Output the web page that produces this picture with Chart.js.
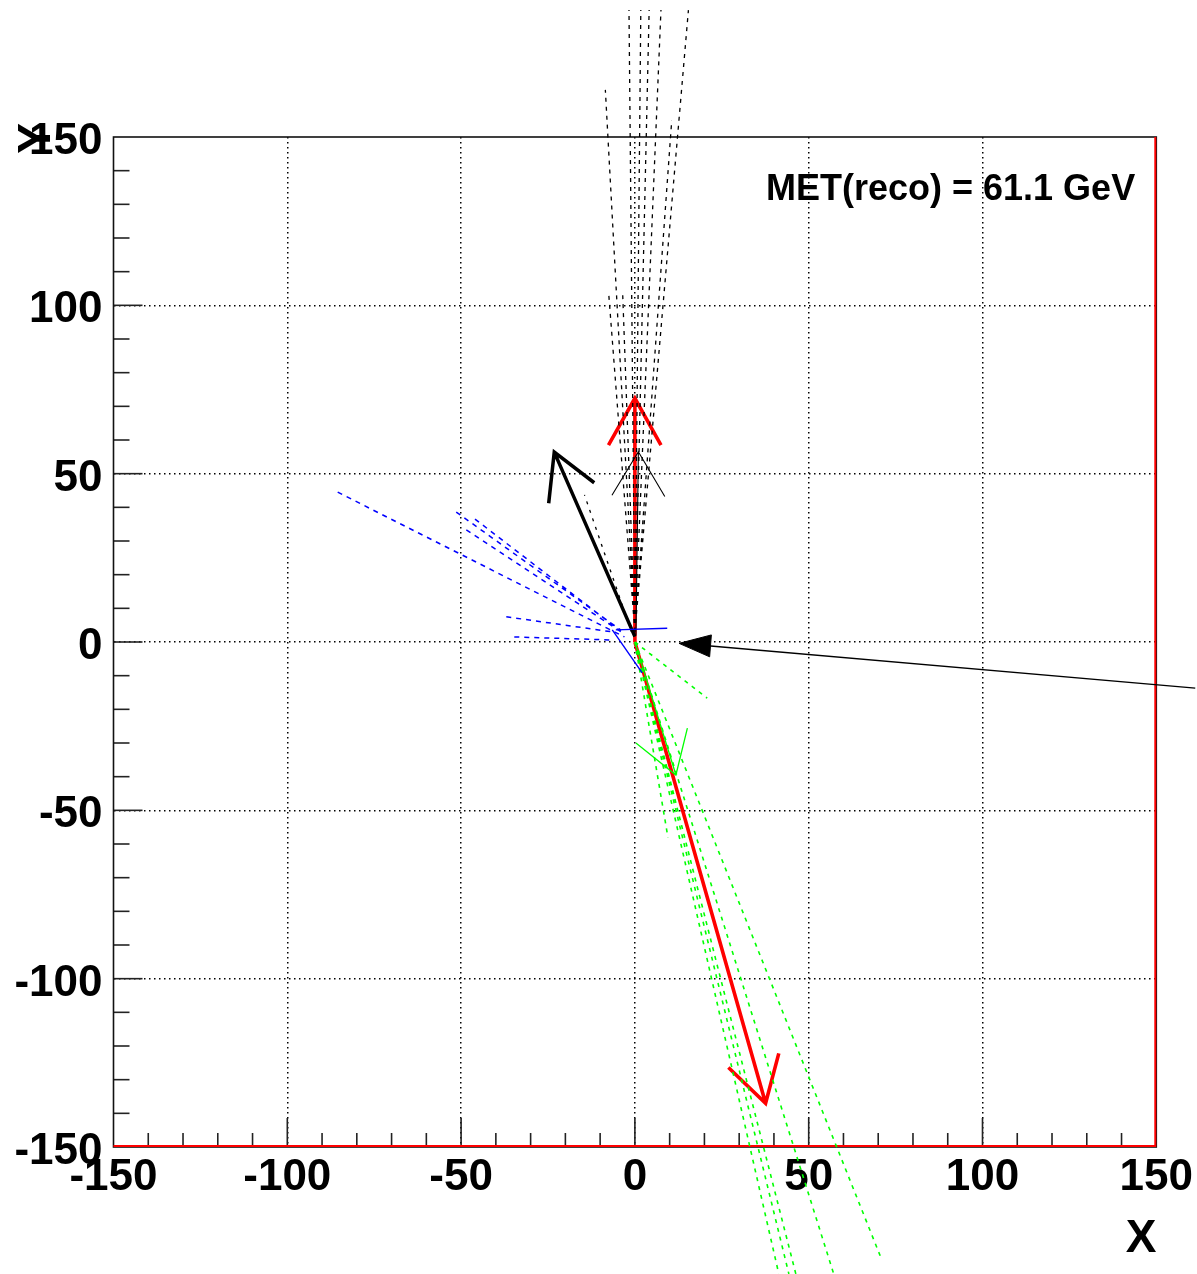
<!DOCTYPE html>
<html><head><meta charset="utf-8">
<script src="https://cdn.jsdelivr.net/npm/chart.js@4/dist/chart.umd.min.js"></script>
<style>html,body{margin:0;padding:0;background:#fff;overflow:hidden}canvas{display:block}</style>
</head><body>
<canvas id="c" width="1197" height="1274"></canvas>
<script>
// ---- data (x, y in GeV) ----
const axisMin = -150, axisMax = 150;
const majorStep = 50, minorStep = 10;
const metLabel = 'MET(reco) = 61.1 GeV';

// black dashed tracks (start point, end points)
const blackTrackStart = [0, 3];
const blackTrackEnds = [[-8.5,164],[-1.7,187.7],[1.7,187.7],[4.1,187.7],[7.5,187.7],[15.4,187.7],[10.6,155],[-7.5,103],[-3.5,103]];
// black dotted track next to the black arrow
const blackDotted = [[-1,3],[-14.5,43.7]];

// blue dashed tracks [start, end]
const blueTracks = [
  [[-85.5,44.5],[-3,1.5]],
  [[-51.4,38.6],[-4,3.5]],
  [[-48.5,33.3],[-4,3]],
  [[-46,36.5],[-4,3.2]],
  [[-37,7.5],[-6.5,3]],
  [[-34.7,1.5],[-6.5,0.6]]
];
// blue solid segments
const blueSolid = [
  [[-5.5,3.6],[9.3,4.1]],
  [[-6.5,3.6],[2.1,-9.2]]
];

// green dashed tracks from the origin
const greenTrackEnds = [[41.4,-187.7],[44.3,-187.7],[46.3,-187.7],[57.2,-187.7],[70.6,-182.4],[9.5,-58],[20.8,-16.7]];

// arrows: tail, tip, wing1, wing2
const greenArrow = {tail:[0,0], tip:[11.8,-39.5], w1:[0.3,-30], w2:[15.1,-25.6]};
const blackThinArrow = {tail:[0.3,2], tip:[1,56.5], w1:[-6.6,43.6], w2:[8.6,43.2]};
const blackArrow = {tail:[0,1.6], tip:[-23.2,56.4], w1:[-11.7,47.3], w2:[-24.8,41.2]};
const redUpArrow = {tail:[0,0], tip:[0,72.4], w1:[-7.6,58.5], w2:[7.5,58.5]};
const redDownArrow = {tail:[0,0], tip:[37.6,-137], w1:[26.9,-126.4], w2:[41.4,-122.2]};

// pointer arrow
const pointerLine = [[21.8,-1.2],[161.2,-13.7]];
const pointerHead = [[12.7,-0.4],[22,2.1],[21.5,-4.4],[12.7,-0.4]];

// ---- helpers ----
const P = p => ({x:p[0], y:p[1]});
const GAP = {x:null, y:null};
function segs(list){ const out=[]; list.forEach((s,i)=>{ if(i) out.push(GAP); s.forEach(p=>out.push(P(p))); }); return out; }
function fan(start, ends){ return segs(ends.map(e=>[start,e])); }
function arrow(a){ return segs([[a.tail,a.tip],[a.w1,a.tip,a.w2]]); }
function ds(data, color, width, dash, extra){
  return Object.assign({data, borderColor:color, backgroundColor:color, borderWidth:width, borderDash:dash||[],
    showLine:true, pointRadius:0, pointHoverRadius:0, clip:false, fill:false, borderCapStyle:'butt'}, extra||{});
}
const GREEN = '#00ff00', BLUE = '#0000ff', RED = '#ff0000', BLACK = '#000000';

const datasets = [
  ds(segs(blueTracks), BLUE, 1.5, [5,5]),
  ds(segs(blueSolid), BLUE, 1.4),
  ds(fan([0,0], greenTrackEnds), GREEN, 1.6, [4,5]),
  ds(arrow(greenArrow), GREEN, 1.3),
  ds(fan(blackTrackStart, blackTrackEnds), BLACK, 1.3, [4,5]),
  ds(segs([blackDotted]), BLACK, 1.3, [3,6]),
  ds(arrow(blackThinArrow), BLACK, 1.1),
  ds(arrow(blackArrow), BLACK, 3.5),
  ds(arrow(redUpArrow), RED, 3.6),
  ds(arrow(redDownArrow), RED, 3.6),
  ds(segs([pointerLine]), BLACK, 1.4),
  ds(pointerHead.map(P), BLACK, 1, [], {fill:'shape'})
];

const FONT = 'Liberation Sans, Arial, Helvetica, sans-serif';
const isMajor = v => Math.abs(v % majorStep) < 1e-9;
const gridColor = c => (isMajor(c.tick.value) && Math.abs(c.tick.value) !== axisMax) ? '#000' : 'rgba(0,0,0,0)';

const framePlugin = {
  id:'frame',
  beforeDatasetsDraw(chart){
    const {ctx, chartArea:a, scales:{x,y}} = chart;
    ctx.save();
    ctx.strokeStyle = '#222'; ctx.lineWidth = 1.6; ctx.setLineDash([]);
    x.ticks.forEach(t=>{
      if (Math.abs(t.value) === axisMax) return;
      const px = x.getPixelForValue(t.value);
      const len = isMajor(t.value) ? 29 : 14;
      ctx.beginPath(); ctx.moveTo(px, a.bottom); ctx.lineTo(px, a.bottom - len); ctx.stroke();
    });
    y.ticks.forEach(t=>{
      if (Math.abs(t.value) === axisMax) return;
      const py = y.getPixelForValue(t.value);
      const len = isMajor(t.value) ? 29 : 16;
      ctx.beginPath(); ctx.moveTo(a.left, py); ctx.lineTo(a.left + len, py); ctx.stroke();
    });
    ctx.lineWidth = 1.6; ctx.strokeStyle = '#111';
    ctx.strokeRect(a.left, a.top, a.right - a.left, a.bottom - a.top);
    ctx.strokeStyle = RED; ctx.lineWidth = 2;
    ctx.beginPath(); ctx.moveTo(a.left, a.bottom - 1); ctx.lineTo(a.right - 1, a.bottom - 1); ctx.lineTo(a.right - 1, a.top); ctx.stroke();
    ctx.restore();
  },
  afterDraw(chart){
    const {ctx} = chart;
    ctx.save();
    ctx.fillStyle = '#000';
    ctx.font = 'bold 36px ' + FONT;
    ctx.textAlign = 'left'; ctx.textBaseline = 'alphabetic';
    ctx.fillText(metLabel, 766, 200);
    ctx.font = 'bold 46px ' + FONT;
    ctx.textAlign = 'center';
    ctx.fillText('X', 1141, 1252);
    ctx.translate(50, 123);
    ctx.rotate(-Math.PI/2);
    ctx.textAlign = 'right';
    ctx.fillText('Y', 0, 0);
    ctx.restore();
  }
};

const tickFont = {family: FONT, weight:'bold', size:44};

new Chart(document.getElementById('c'), {
  type:'scatter',
  data:{datasets},
  options:{
    responsive:false, animation:false, devicePixelRatio:1,
    layout:{padding:{top:137, right:39, bottom:0, left:0}},
    plugins:{legend:{display:false}, tooltip:{enabled:false}},
    scales:{
      x:{type:'linear', min:axisMin, max:axisMax,
        afterFit(s){ s.height = 127; },
        grid:{drawTicks:false, color:gridColor, lineWidth:1.5},
        border:{display:false, dash:[1.5,3.5]},
        ticks:{stepSize:minorStep, autoSkip:false, maxRotation:0, minRotation:0, padding:4, color:'#000', font:tickFont,
          callback:v => isMajor(v) ? String(v) : ''}
      },
      y:{type:'linear', min:axisMin, max:axisMax,
        afterFit(s){ s.width = 113.5; },
        grid:{drawTicks:false, color:gridColor, lineWidth:1.5},
        border:{display:false, dash:[1.5,3.5]},
        ticks:{stepSize:minorStep, autoSkip:false, padding:11, labelOffset:5, color:'#000', font:tickFont,
          callback:v => isMajor(v) ? String(v) : ''}
      }
    }
  },
  plugins:[framePlugin]
});
</script>
</body></html>
